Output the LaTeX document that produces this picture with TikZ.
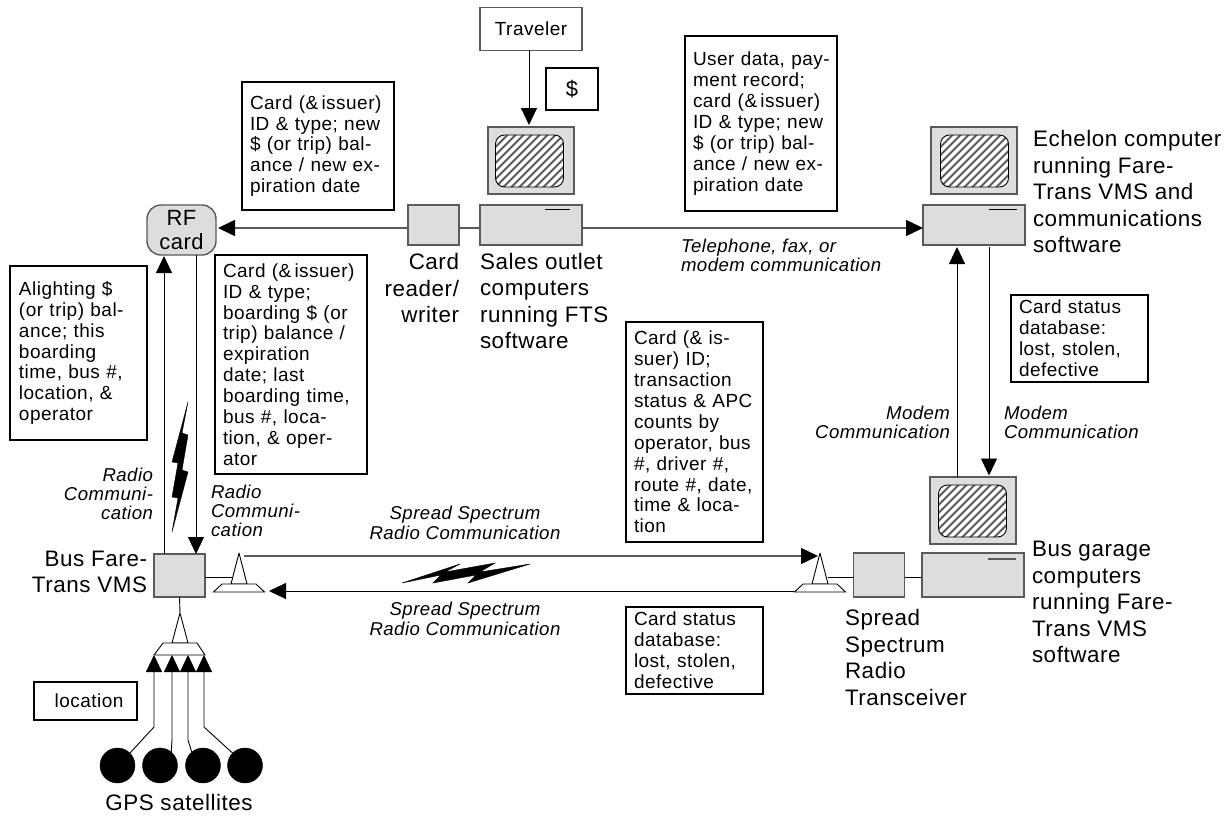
\documentclass[tikz,border=0pt]{standalone}
\usepackage{fontspec}
\setmainfont{Liberation Sans}[LetterSpace=2.5]
\usetikzlibrary{arrows.meta}
\definecolor{boxgray}{HTML}{DDDDDD}
\definecolor{edgegray}{HTML}{5A5A5A}
\tikzset{
  arr/.style={-{Triangle[length=17pt,width=16pt,black]},line width=0.9pt},
  greyarr/.style={-{Triangle[length=17pt,width=16pt,black]},line width=1.5pt,draw=edgegray},
  plain/.style={line width=0.9pt},
  greybox/.style={draw=edgegray,fill=boxgray,line width=1.4pt,inner sep=0pt,outer sep=0pt},
  tbox/.style={draw=black,fill=white,line width=1.4pt,inner xsep=8pt,inner ysep=0pt,outer sep=0pt,align=left,
    font=\fontsize{19}{20.9}\selectfont},
  whitebox/.style={draw=edgegray,fill=white,line width=1.2pt,inner sep=0pt,outer sep=0pt,font=\fontsize{19}{20.9}\selectfont},
  big/.style={inner sep=0pt,outer sep=0pt,align=left,font=\fontsize{22.4}{26.5}\selectfont},
  bigr/.style={inner sep=0pt,outer sep=0pt,align=right,font=\fontsize{22.4}{26.5}\selectfont},
  ital/.style={inner sep=0pt,outer sep=0pt,align=left,font=\fontsize{18.6}{19.3}\selectfont\itshape},
  italr/.style={inner sep=0pt,outer sep=0pt,align=right,font=\fontsize{18.6}{19.3}\selectfont\itshape},
  italc/.style={inner sep=0pt,outer sep=0pt,align=center,font=\fontsize{18.6}{19.3}\selectfont\itshape},
  screen/.style={draw=black,fill=white,line width=0.9pt,rounded corners=9pt,inner sep=0pt,
    minimum width=68pt,minimum height=52pt,
    path picture={
      \foreach \d in {-80,-72,...,80}{
        \draw[line width=2pt,draw=black!65] ([xshift=\d pt]path picture bounding box.center) ++(-40pt,-40pt) -- ++(80pt,80pt);
      }
    }},
  sat/.style={circle,fill=black,draw=black,minimum size=35pt,inner sep=0pt,outer sep=0pt},
  bolt/.style={fill=black,draw=black,line width=0.4pt,line join=miter}
}
\newcommand{\antennaShape}[3]{% x, apex y, trapezoid height
  \draw[plain,fill=white,line join=round] (#1-8,#2+31) -- (#1,#2) -- (#1+8,#2+31) -- cycle;
  \draw[plain,fill=white] (#1-17,#2+31) -- (#1+17,#2+31) -- (#1+25.5,#2+31+#3) -- (#1-25.5,#2+31+#3) -- cycle;
}
\begin{document}
\begin{tikzpicture}[x=1pt,y=-1pt]
\path[use as bounding box,fill=white] (0,0) rectangle (1229,816);

% computers
\node[greybox,minimum width=86pt,minimum height=67pt] (mon1) at (531,160.5) {};
\node[screen] (scr1) at (529.5,161) {};
\node[greybox,minimum width=102pt,minimum height=40pt] (cpu1) at (531,225) {};
\draw[plain] (545,209) coordinate (d1a) -- (570,209) coordinate (d1b);
\node[greybox,minimum width=51pt,minimum height=40pt] (reader) at (433.5,225) {};

\node[greybox,minimum width=86pt,minimum height=67pt] (mon2) at (974,160.5) {};
\node[screen] (scr2) at (974.5,161) {};
\node[greybox,minimum width=102pt,minimum height=40pt] (cpu2) at (974,225) {};
\draw[plain] (989,209) coordinate (d2a) -- (1017,209) coordinate (d2b);

\node[greybox,minimum width=86pt,minimum height=67pt] (mon3) at (973,510.5) {};
\node[screen] (scr3) at (972.5,511) {};
\node[greybox,minimum width=102pt,minimum height=44pt] (cpu3) at (973,575) {};
\draw[line width=1.4pt,draw=edgegray] (988,559) coordinate (d3a) -- (1016,559) coordinate (d3b);
\node[greybox,minimum width=51pt,minimum height=44pt] (xcvr) at (879,575) {};

\node[greybox,minimum width=51pt,minimum height=43pt] (bus) at (179.5,575.5) {};
\node[greybox,rounded corners=14pt,minimum width=69pt,minimum height=50pt,align=center,
  font=\fontsize{22}{23.5}\selectfont] (rf) at (181.5,230) {RF\\card};

% top boxes
\node[whitebox,minimum width=102pt,minimum height=43pt] (trav) at (531,29) {Traveler};
\node[tbox,line width=1.2pt,minimum width=52pt,minimum height=42pt,inner xsep=0pt,font=\fontsize{22}{24}\selectfont] (dollar) at (572,89) {\$};

% text boxes
\node[tbox,minimum width=152pt,minimum height=128pt,text width=136pt,anchor=north west] (tA) at (242,82)
  {Card (\&\,issuer)\\ID \& type; new\\\$ (or trip) bal-\\ance / new ex-\\piration date};
\node[tbox,minimum width=152pt,minimum height=219pt,text width=136pt,anchor=north west] (tB) at (215,255)
  {Card (\&\,issuer)\\ID \& type;\\boarding \$ (or\\trip) balance /\\expiration\\date; last\\boarding time,\\bus \#, loca-\\tion, \& oper-\\ator};
\node[tbox,minimum width=137pt,minimum height=174pt,text width=119pt,inner xsep=9pt,anchor=north west] (tC) at (10,266)
  {Alighting \$\\(or trip) bal-\\ance; this\\boarding\\time, bus \#,\\location, \&\\operator};
\node[tbox,minimum width=152pt,minimum height=175pt,text width=136pt,anchor=north west] (tD) at (685,36)
  {\mbox{User data, pay-}\\ment record;\\card (\&\,issuer)\\ID \& type; new\\\$ (or trip) bal-\\ance / new ex-\\piration date};
\node[tbox,minimum width=137pt,minimum height=220pt,text width=121pt,anchor=north west] (tE) at (626,322)
  {Card (\& is-\\suer) ID;\\transaction\\status \& APC\\counts by\\operator, bus\\\#, driver \#,\\route \#, date,\\time \& loca-\\tion};
\node[tbox,minimum width=137pt,minimum height=87pt,text width=121pt,anchor=north west] (tF) at (626,607)
  {Card status\\database:\\lost, stolen,\\defective};
\node[tbox,minimum width=137pt,minimum height=87pt,text width=121pt,anchor=north west] (tG) at (1011,295)
  {Card status\\database:\\lost, stolen,\\defective};
\node[whitebox,draw=black,minimum width=103pt,minimum height=38pt] (loc) at (85.5,701) {\hspace{7pt}location};

% large labels
\node[big,anchor=west] (lEch) at (1033,191.5) {Echelon computer\\running Fare-\\Trans VMS and\\communications\\software};
\node[big,anchor=west] (lGar) at (1032,602) {Bus garage\\computers\\running Fare-\\Trans VMS\\software};
\node[big,anchor=west] (lSal) at (480,301) {Sales outlet\\computers\\running FTS\\software};
\node[bigr,anchor=east] (lRea) at (459,288) {Card\\reader/\\writer};
\node[big,anchor=west] (lSpr) at (845,657.5) {Spread\\Spectrum\\Radio\\Transceiver};
\node[bigr,anchor=east] (lBus) at (147,572) {Bus Fare-\\Trans VMS};
\node[big,anchor=center] (lGps) at (179,802) {GPS satellites};

% italic labels
\node[italr,anchor=east] (iR1) at (153,494) {Radio\\Communi-\\cation};
\node[ital,anchor=west] (iR2) at (211,511) {Radio\\Communi-\\cation};
\node[ital,anchor=west] (iTel) at (681,255.5) {Telephone, fax, or\\modem communication};
\node[italc] (iS1) at (465,523) {Spread Spectrum\\Radio Communication};
\node[italc] (iS2) at (465,619) {Spread Spectrum\\Radio Communication};
\node[italr,anchor=east] (iM1) at (950,422.5) {Modem\\Communication};
\node[ital,anchor=west] (iM2) at (1004,422.5) {Modem\\Communication};

% antennas
\antennaShape{239}{553}{8}
\antennaShape{820}{553}{8}
\draw[plain,fill=white,line join=round] (172,643) -- (180,613) -- (188,643) -- cycle;
\draw[plain,fill=white] (163,643) -- (197,643) -- (205,655) -- (154,655) -- cycle;
\coordinate (antA) at (232,577);
\coordinate (antAtop) at (244,556);
\coordinate (antAbot) at (269,591);
\coordinate (antB) at (828,577);
\coordinate (antBtop) at (818,556);
\coordinate (antBbot) at (794,591);
\coordinate (antC) at (180,613);

% connectors
\coordinate (tv) at (529,50);
\draw[arr] (tv) -- (529,125) coordinate (tvEnd);
\draw[greyarr] ([yshift=-3pt]reader.west) -- ([xshift=2pt,yshift=2pt]rf.east);
\draw[line width=1.5pt,draw=edgegray] ([yshift=-3pt]reader.east) -- ([yshift=-3pt]cpu1.west);
\draw[greyarr] ([yshift=-3pt]cpu1.east) -- ([yshift=-3pt]cpu2.west);
\draw[arr] (bus.north -| 164,0) -- (164,256) coordinate (rfIn);
\draw[arr] (196,255) coordinate (rfOut) -- (bus.north -| 196,0);
\draw[plain] (bus.east |- antA) -- (antA);
\draw[greyarr] (antAtop) -- (antBtop);
\draw[arr] (antBbot) -- (antAbot);
\draw[plain] (antB) -- (xcvr.west |- antB);
\draw[plain] (xcvr.east |- antB) -- (cpu3.west |- antB);
\draw[arr] (mon3.north -| 957,0) -- (957,247) coordinate (upEnd);
\draw[arr] (989,247) coordinate (dnStart) -- (989,475.5) coordinate (dnEnd);
\draw[plain] (bus.south) -- (antC);

% satellites
\node[sat] (s1) at (117.5,765.5) {};
\node[sat] (s2) at (160,765.5) {};
\node[sat] (s3) at (203,765.5) {};
\node[sat] (s4) at (245,765.5) {};
\coordinate (k1) at (154,727); \coordinate (k2) at (172,740);
\coordinate (k3) at (188,740); \coordinate (k4) at (204,727);
\coordinate (t1) at (156,655); \coordinate (t2) at (172,655);
\coordinate (t3) at (189,655); \coordinate (t4) at (206,655);
\draw[arr] (s1.45) -- (k1) -- (k1 |- t1);
\draw[arr] (s2.50) -- (k2) -- (k2 |- t2);
\draw[arr] (s3.130) -- (k3) -- (k3 |- t3);
\draw[arr] (s4.135) -- (k4) -- (k4 |- t4);

% lightning
\draw[bolt] (188,402) -- (172,462) -- (178,463) -- (172,497) -- (178,498) -- (172,532) -- (188,472) -- (182,470) -- (188,435) -- (182,433) -- cycle;
\draw[bolt] (402,583) -- (460,564) -- (445,572) -- (495,563) -- (480,572) -- (530,564) -- (468,583) -- (476,575) -- (433,583) -- (441,575) -- cycle;
\end{tikzpicture}
\end{document}
